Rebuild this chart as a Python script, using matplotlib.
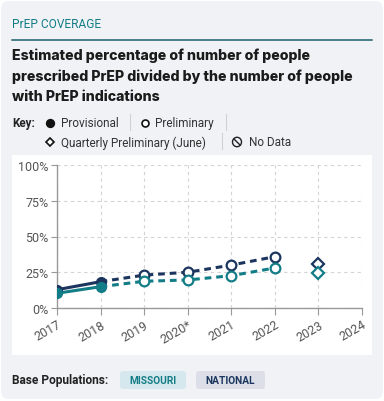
import matplotlib
matplotlib.use("Agg")
import matplotlib.pyplot as plt
from matplotlib.patches import FancyBboxPatch, Rectangle, Circle
from matplotlib.lines import Line2D

years = [2017, 2018, 2019, 2020, 2021, 2022]
national = [12.8, 18.4, 23.0, 25.0, 30.0, 35.9]
missouri = [10.3, 14.9, 18.7, 19.6, 22.6, 28.0]
q_year = 2023
national_q = 31.0
missouri_q = 24.5
xtick_labels = ["2017", "2018", "2019", "2020*", "2021", "2022", "2023", "2024"]
ytick_vals = [0, 25, 50, 75, 100]
ytick_labels = ["0%", "25%", "50%", "75%", "100%"]

NAVY = "#1c355e"
TEAL = "#137d87"
W, H = 384, 402
FONT = "Roboto"

fig = plt.figure(figsize=(W / 100, H / 100), dpi=100)
fig.patch.set_facecolor("white")

def fx(px):
    return px / W

def fy(py):
    return 1 - py / H

# card background
card = FancyBboxPatch((fx(1), fy(400)), fx(382), 398 / H,
                      boxstyle="round,pad=0,rounding_size=0.02",
                      transform=fig.transFigure, facecolor="#f1f2f6",
                      edgecolor="none", zorder=0)
fig.patches.append(card)
# white chart panel
fig.patches.append(Rectangle((fx(12), fy(356)), fx(360), 200 / H,
                             transform=fig.transFigure, facecolor="white",
                             edgecolor="none", zorder=0.5))

# header
fig.text(fx(12), fy(24), "PrEP COVERAGE", color="#137d87", fontsize=8.6,
         family=FONT, va="center", ha="left")
fig.add_artist(Line2D([fx(12), fx(372)], [fy(40.5), fy(40.5)],
                      transform=fig.transFigure, color="#1d5f6b", lw=1.1))
title_lines = ["Estimated percentage of number of people",
               "prescribed PrEP divided by the number of people",
               "with PrEP indications"]
for i, t in enumerate(title_lines):
    fig.text(fx(12), fy(56 + 20.5 * i), t, fontsize=10.2, fontweight=800,
             family="Inter", color="#1b1b1b", va="center", ha="left")

# key
ky1, ky2 = 124, 143
KS = 8.5
fig.text(fx(12), fy(ky1), "Key:", fontsize=8.4, fontweight="bold", family=FONT,
         color="#222", va="center")
def marker(x, y, m, fill, size=5):
    fig.add_artist(Line2D([fx(x)], [fy(y)], marker=m, markersize=size,
                          markerfacecolor=fill, markeredgecolor="#111",
                          markeredgewidth=1.2, linestyle="none",
                          transform=fig.transFigure))
def sep(x, y):
    fig.add_artist(Line2D([fx(x), fx(x)], [fy(y - 8), fy(y + 8)],
                          transform=fig.transFigure, color="#cfd2d8", lw=0.8))
marker(50, ky1, "o", "#111", 5.5)
fig.text(fx(61), fy(ky1), "Provisional", fontsize=KS, family=FONT,
         color="#333", va="center")
sep(130, ky1 - 1)
marker(145, ky1, "o", "white", 5)
fig.text(fx(155), fy(ky1), "Preliminary", fontsize=KS, family=FONT,
         color="#333", va="center")
sep(226, ky1 - 1)
marker(50, ky2, "D", "white", 4)
fig.text(fx(61), fy(ky2), "Quarterly Preliminary (June)", fontsize=KS,
         family=FONT, color="#333", va="center")
sep(222, ky2 - 1)
# no data icon
fig.add_artist(Circle((fx(237), fy(ky2)), 4.5 / W, transform=fig.transFigure,
                      facecolor="none", edgecolor="#222", lw=1.0))
fig.add_artist(Line2D([fx(234), fx(240)], [fy(ky2 - 3), fy(ky2 + 3)],
                      transform=fig.transFigure, color="#222", lw=1.0))
fig.text(fx(249), fy(ky2), "No Data", fontsize=KS, family=FONT,
         color="#333", va="center")

# chart
ax = fig.add_axes([fx(57), fy(309), fx(362) - fx(57), (309 - 166) / H])
ax.set_zorder(2)
ax.set_facecolor("white")
ax.set_xlim(2017, 2024)
ax.set_ylim(0, 100)
ax.set_xticks(range(2017, 2025))
ax.set_xticklabels(xtick_labels, rotation=30, ha="right",
                   rotation_mode="anchor", fontsize=9, family=FONT,
                   color="#555")
ax.set_yticks(ytick_vals)
ax.set_yticklabels(ytick_labels, fontsize=9, family=FONT, color="#555")
ax.tick_params(axis="x", length=5, color="#999", pad=2)
ax.tick_params(axis="y", length=4, color="#999", pad=2)
ax.grid(True, color="#d4d4d4", linestyle=(0, (3, 3)), lw=0.8)
for s in ["top", "right"]:
    ax.spines[s].set_visible(False)
for s in ["left", "bottom"]:
    ax.spines[s].set_color("#999")
    ax.spines[s].set_linewidth(1)
ax.set_axisbelow(True)

for vals, col, qv in [(national, NAVY, national_q), (missouri, TEAL, missouri_q)]:
    ax.plot(years[:2], vals[:2], color=col, lw=2.2, zorder=3)
    ax.plot(years[1:], vals[1:], color=col, lw=2.2, linestyle=(0, (2.2, 1.6)),
            zorder=3)
    ax.plot(years[:2], vals[:2], "o", color=col, markersize=7, zorder=4,
            markeredgecolor=col)
    ax.plot(years[2:], vals[2:], "o", markerfacecolor="white",
            markeredgecolor=col, markeredgewidth=1.6, markersize=7, zorder=4)
    ax.plot([q_year], [qv], "D", markerfacecolor="white", markeredgecolor=col,
            markeredgewidth=1.6, markersize=6, zorder=4)

# bottom
fig.text(fx(12), fy(381), "Base Populations:", fontsize=8.6, fontweight="bold",
         family=FONT, color="#222", va="center")
for x0, x1, label, bg, fg in [(120, 186, "MISSOURI", "#d5e8ee", TEAL),
                              (196, 265, "NATIONAL", "#dcdfe7", NAVY)]:
    fig.patches.append(FancyBboxPatch((fx(x0), fy(390)), fx(x1 - x0), 18 / H,
                                      boxstyle="round,pad=0,rounding_size=0.008",
                                      transform=fig.transFigure, facecolor=bg,
                                      edgecolor="none"))
    fig.text(fx((x0 + x1) / 2), fy(381), label, fontsize=7.3, fontweight="bold",
             family=FONT, color=fg, va="center", ha="center")

fig.savefig("out.png", dpi=100, facecolor=fig.get_facecolor())
